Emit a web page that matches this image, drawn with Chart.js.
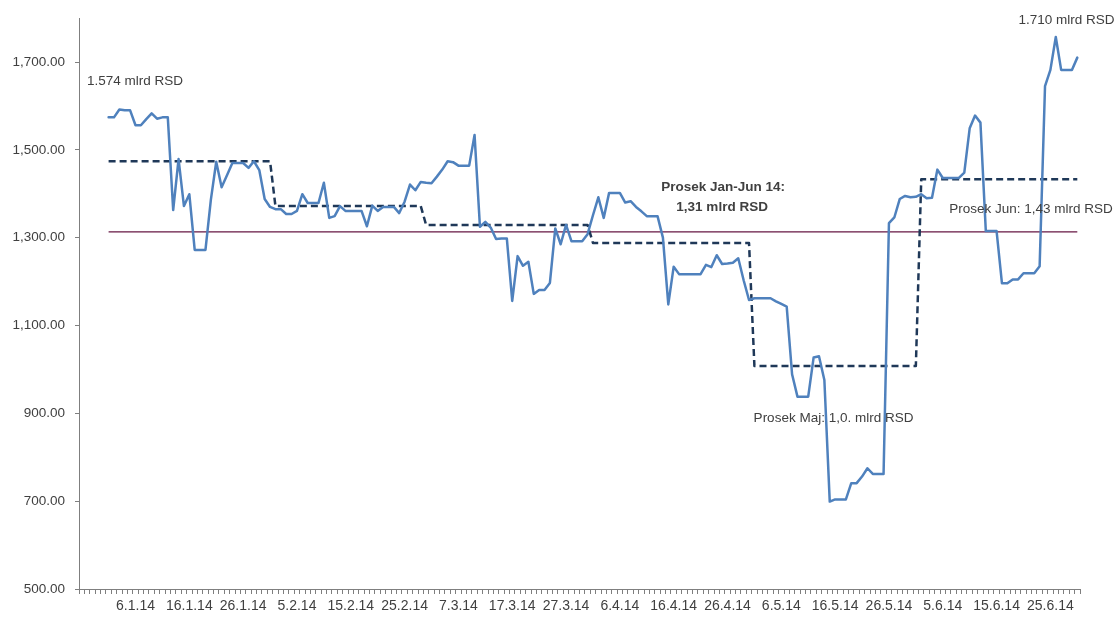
<!DOCTYPE html>
<html>
<head>
<meta charset="utf-8">
<title>Likvidnost RSD, jan-jun 2014</title>
<script src="https://cdn.jsdelivr.net/npm/chart.js@4/dist/chart.umd.min.js"></script>
<style>
    html, body { margin: 0; padding: 0; background: #fff; }
    #chart-wrap { width: 1118px; height: 618px; }
</style>
</head>
<body>
<div id="chart-wrap"><canvas id="chart" width="1118" height="618"></canvas></div>
<script>
// Daily balance, mlrd RSD x 1000 (1.1.2014 - 30.6.2014)
const dailyValues = [
    // januar
    1574, 1574, 1592, 1590, 1590, 1556, 1556, 1570, 1583, 1571,
    1574, 1574, 1363, 1479, 1372, 1399, 1272, 1272, 1272, 1386,
    1473, 1415, 1442, 1470, 1470, 1470, 1459, 1474, 1454, 1388,
    1370,
    // februar
    1365, 1365, 1354, 1354, 1361, 1399, 1379, 1379, 1379, 1425,
    1345, 1349, 1372, 1361, 1361, 1361, 1361, 1326, 1373, 1361,
    1370, 1370, 1370, 1356, 1382, 1421, 1408, 1427,
    // mart
    1425, 1424, 1439, 1455, 1474, 1472, 1464, 1464, 1464, 1534,
    1325, 1336, 1323, 1297, 1298, 1298, 1156, 1258, 1236, 1245,
    1172, 1181, 1181, 1197, 1321, 1285, 1329, 1292, 1292, 1292,
    1308,
    // april
    1351, 1392, 1345, 1402, 1402, 1402, 1380, 1383, 1370, 1360,
    1349, 1349, 1349, 1300, 1148, 1234, 1217, 1217, 1217, 1217,
    1217, 1238, 1233, 1260, 1240, 1241, 1243, 1253, 1203, 1158,
    // maj
    1162, 1162, 1162, 1162, 1155, 1149, 1143, 989, 938, 938,
    938, 1027, 1030, 976, 699, 704, 704, 704, 741, 741,
    756, 775, 762, 762, 762, 1333, 1346, 1388, 1395, 1392,
    1393,
    // jun
    1399, 1390, 1391, 1455, 1436, 1436, 1436, 1436, 1448, 1549,
    1578, 1562, 1315, 1315, 1315, 1196, 1196, 1205, 1205, 1219,
    1219, 1219, 1235, 1645, 1682, 1757, 1682, 1682, 1682, 1710
];

// Monthly averages (dashed steps) and the Jan-Jun average
const months = ['jan', 'feb', 'mar', 'apr', 'maj', 'jun'];
const monthDays = [31, 28, 31, 30, 31, 30];
const monthAverages = [1474, 1372, 1329, 1288, 1008, 1433];
const periodAverage = 1313;

// Labelled dates on the x axis
const tickLabels = ['6.1.14', '16.1.14', '26.1.14', '5.2.14', '15.2.14', '25.2.14',
    '7.3.14', '17.3.14', '27.3.14', '6.4.14', '16.4.14', '26.4.14', '6.5.14',
    '16.5.14', '26.5.14', '5.6.14', '15.6.14', '25.6.14'];
const yTickValues = [500, 700, 900, 1100, 1300, 1500, 1700];

// Axis starts with a few empty days before the series
const leadDays = 5;

const notes = [
    { text: '1.574 mlrd RSD', idx: 1, value: 1657, align: 'left' },
    { text: '1.710 mlrd RSD', idx: 183, value: 1795, align: 'center' },
    { text: 'Prosek Jan-Jun 14:', idx: 119.2, value: 1415, align: 'center', bold: true },
    { text: '1,31 mlrd RSD', idx: 119, value: 1370, align: 'center', bold: true },
    { text: 'Prosek Maj: 1,0. mlrd RSD', idx: 139.7, value: 889, align: 'center' },
    { text: 'Prosek Jun: 1,43 mlrd RSD', idx: 176.4, value: 1365, align: 'center' }
];

// Build day categories: d.m.yy
const categories = [];
const start = new Date(2013, 11, 27);
for (let i = 0; i < leadDays + dailyValues.length; i++) {
    const d = new Date(start.getFullYear(), start.getMonth(), start.getDate() + i);
    categories.push(d.getDate() + '.' + (d.getMonth() + 1) + '.' + String(d.getFullYear()).slice(2));
}

const pad = new Array(leadDays).fill(null);
const series = pad.concat(dailyValues);

const monthly = pad.slice();
monthAverages.forEach((avg, m) => {
    for (let i = 0; i < monthDays[m]; i++) monthly.push(avg);
});

const average = pad.concat(dailyValues.map(() => periodAverage));

const textColor = '#404040';
const axisColor = '#7f7f7f';
const fontFamily = '"Liberation Sans", Arial, sans-serif';

// Text notes placed in data coordinates
const notesPlugin = {
    id: 'notes',
    afterDatasetsDraw(chart) {
        const ctx = chart.ctx;
        const xs = chart.scales.x;
        const ys = chart.scales.y;
        ctx.save();
        ctx.fillStyle = textColor;
        ctx.textBaseline = 'middle';
        notes.forEach(n => {
            ctx.font = (n.bold ? 'bold ' : '') + '13.5px ' + fontFamily;
            ctx.textAlign = n.align;
            ctx.fillText(n.text, xs.getPixelForValue(n.idx), ys.getPixelForValue(n.value));
        });
        ctx.restore();
    }
};

new Chart(document.getElementById('chart'), {
    type: 'line',
    data: {
        labels: categories,
        datasets: [
            {
                label: 'Stanje',
                data: series,
                borderColor: '#4f81bd',
                borderWidth: 2.5,
                borderJoinStyle: 'round',
                borderCapStyle: 'round',
                pointRadius: 0,
                tension: 0,
                fill: false
            },
            {
                label: 'Prosek po mesecima',
                data: monthly,
                borderColor: '#1f3858',
                borderWidth: 2.5,
                borderDash: [7, 4],
                borderJoinStyle: 'round',
                pointRadius: 0,
                tension: 0,
                fill: false
            },
            {
                label: 'Prosek Jan-Jun 14',
                data: average,
                borderColor: '#661643',
                borderWidth: 1.2,
                pointRadius: 0,
                fill: false
            }
        ]
    },
    options: {
        responsive: false,
        devicePixelRatio: 1,
        animation: false,
        layout: { padding: { left: 0, right: 38, top: 18, bottom: 0 } },
        plugins: {
            legend: { display: false },
            tooltip: { enabled: false }
        },
        scales: {
            x: {
                type: 'category',
                offset: true,
                grid: {
                    offset: true,
                    drawOnChartArea: false,
                    drawTicks: true,
                    tickLength: 5,
                    color: axisColor
                },
                border: { color: axisColor, width: 1 },
                ticks: {
                    autoSkip: false,
                    maxRotation: 0,
                    minRotation: 0,
                    padding: 4,
                    color: textColor,
                    font: { family: fontFamily, size: 14 },
                    callback: function (value, index) {
                        const lab = categories[index];
                        return tickLabels.includes(lab) ? lab : '';
                    }
                },
                afterFit(scale) { scale.height = 29; }
            },
            y: {
                min: 500,
                max: 1800,
                grid: {
                    drawOnChartArea: false,
                    drawTicks: true,
                    tickLength: 4,
                    color: axisColor
                },
                border: { color: axisColor, width: 1 },
                ticks: {
                    padding: 10,
                    color: textColor,
                    font: { family: fontFamily, size: 13.5 },
                    callback: v => v.toLocaleString('en-US', { minimumFractionDigits: 2, maximumFractionDigits: 2 })
                },
                afterBuildTicks(scale) {
                    scale.ticks = yTickValues.map(v => ({ value: v }));
                },
                afterFit(scale) { scale.width = 79; }
            }
        }
    },
    plugins: [notesPlugin]
});
</script>
</body>
</html>
